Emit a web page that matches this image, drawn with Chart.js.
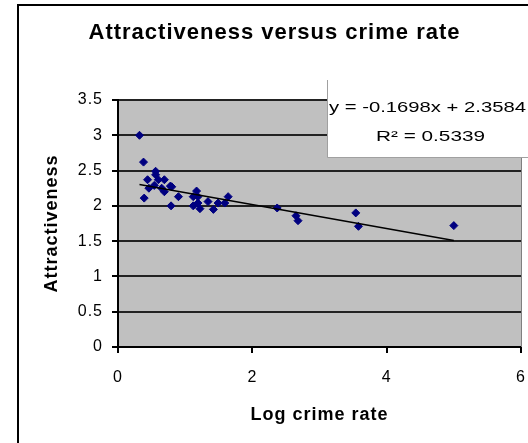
<!DOCTYPE html>
<html>
<head>
<meta charset="utf-8">
<script src="https://cdn.jsdelivr.net/npm/chart.js@4/dist/chart.umd.min.js"></script>
<style>
  body { margin: 0; background: #fff; }
</style>
</head>
<body>
<canvas id="crimeChart" width="528" height="443"></canvas>
<script>
// values
const logCrime = [0.32, 0.38, 0.39, 0.44, 0.46, 0.54, 0.56, 0.56, 0.60, 0.65, 0.69, 0.69, 0.78, 0.80, 0.79,
    0.90, 1.12, 1.12, 1.17, 1.19, 1.19, 1.22, 1.34, 1.42, 1.49, 1.59, 1.64, 2.37, 2.65, 2.68, 3.54, 3.58, 5.00];
const attractiveness = [3.00, 2.62, 2.11, 2.37, 2.25, 2.29, 2.49, 2.44, 2.37, 2.25, 2.37, 2.20, 2.28, 2.27, 2.00,
    2.13, 2.13, 2.00, 2.21, 2.13, 2.04, 1.96, 2.06, 1.95, 2.04, 2.04, 2.13, 1.97, 1.86, 1.79, 1.90, 1.71, 1.72];
const trendX = [0.32, 5.00];
const trendY = [2.304, 1.509];
const yTickLabels = ['0', '0.5', '1', '1.5', '2', '2.5', '3', '3.5'];
const xTickLabels = ['0', '2', '4', '6'];
const equationLines = ['y = -0.1698x + 2.3584', 'R\u00B2 = 0.5339'];

const FONT = '"Liberation Sans", Arial, sans-serif';

// draws text stretched sideways so it fills the given width
function wideText(ctx, text, left, y, width) {
    const natural = ctx.measureText(text).width;
    ctx.save();
    ctx.translate(left, y);
    ctx.scale(width / natural, 1);
    ctx.fillText(text, 0, 0);
    ctx.restore();
}

document.addEventListener('DOMContentLoaded', function() {
    const excelLook = {
        id: 'excelLook',
        beforeDraw(chart) {
            const ctx = chart.ctx;
            const a = chart.chartArea;
            ctx.letterSpacing = '1px';
            ctx.save();
            ctx.fillStyle = '#c0c0c0';
            ctx.fillRect(a.left, a.top, a.right - a.left, a.bottom - a.top);
            // outer chart border (left and top only visible)
            ctx.strokeStyle = '#000';
            ctx.lineWidth = 2;
            ctx.beginPath();
            ctx.moveTo(18, 443);
            ctx.lineTo(18, 5);
            ctx.lineTo(528, 5);
            ctx.stroke();
            ctx.restore();
        },
        afterDraw(chart) {
            const ctx = chart.ctx;
            const a = chart.chartArea;
            ctx.save();
            // right edge of the plot area
            ctx.strokeStyle = '#808080';
            ctx.lineWidth = 1;
            ctx.beginPath();
            ctx.moveTo(a.right + 0.5, a.top);
            ctx.lineTo(a.right + 0.5, a.bottom);
            ctx.stroke();
            // trend line label box
            ctx.fillStyle = '#fff';
            ctx.fillRect(327, 80, 202, 77);
            ctx.strokeStyle = '#a0a0a0';
            ctx.beginPath();
            ctx.moveTo(327.5, 80);
            ctx.lineTo(327.5, 157.5);
            ctx.lineTo(529, 157.5);
            ctx.stroke();
            ctx.fillStyle = '#000';
            ctx.letterSpacing = '0px';
            ctx.font = '15px ' + FONT;
            ctx.textAlign = 'left';
            ctx.textBaseline = 'middle';
            wideText(ctx, equationLines[0], 329, 108, 197);
            wideText(ctx, equationLines[1], 376, 137, 109);
            ctx.restore();
        }
    };

    const ctx = document.getElementById('crimeChart').getContext('2d');
    const crimeChart = new Chart(ctx, {
        type: 'scatter',
        data: {
            datasets: [{
                type: 'line',
                label: 'Trend',
                data: trendX.map((x, i) => ({ x: x, y: trendY[i] })),
                borderColor: '#000',
                borderWidth: 1.5,
                pointRadius: 0,
                fill: false
            }, {
                label: 'Attractiveness',
                data: logCrime.map((x, i) => ({ x: x, y: attractiveness[i] })),
                pointStyle: 'rectRot',
                pointRadius: 4,
                backgroundColor: '#000080',
                borderColor: '#000080',
                borderWidth: 1
            }]
        },
        options: {
            responsive: false,
            animation: false,
            layout: { padding: { left: 28, right: 7, top: 0, bottom: 0 } },
            plugins: {
                legend: { display: false },
                tooltip: { enabled: false },
                title: {
                    display: true,
                    text: 'Attractiveness versus crime rate',
                    color: '#000',
                    font: { family: FONT, size: 22, weight: 'bold' },
                    padding: { top: 20, bottom: 53.6 }
                }
            },
            scales: {
                x: {
                    type: 'linear',
                    min: 0,
                    max: 6,
                    ticks: {
                        stepSize: 2, color: '#000', padding: 15, font: { family: FONT, size: 16 },
                        callback: (v, i) => xTickLabels[i]
                    },
                    grid: { drawOnChartArea: false, drawTicks: true, tickLength: 6, color: '#000', lineWidth: 2 },
                    border: { display: true, color: '#000', width: 2 },
                    title: {
                        display: true,
                        text: 'Log crime rate',
                        color: '#000',
                        font: { family: FONT, size: 18, weight: 'bold' },
                        padding: { top: 0, bottom: 17 }
                    },
                    afterFit(scale) {
                        scale.height = 96;
                        scale.paddingLeft = 0;
                        scale.paddingRight = 0;
                    }
                },
                y: {
                    min: 0,
                    max: 3.5,
                    ticks: {
                        stepSize: 0.5, color: '#000', padding: 9, font: { family: FONT, size: 16 },
                        callback: (v, i) => yTickLabels[i]
                    },
                    grid: { color: '#222', lineWidth: 2, tickLength: 6, tickColor: '#000' },
                    border: { display: true, color: '#000', width: 2 },
                    title: {
                        display: true,
                        text: 'Attractiveness',
                        color: '#000',
                        font: { family: FONT, size: 18, weight: 'bold' },
                        padding: { top: 13, bottom: 0 }
                    },
                    afterFit(scale) {
                        scale.width = 90;
                        scale.paddingTop = 0;
                        scale.paddingBottom = 0;
                    }
                }
            }
        },
        plugins: [excelLook]
    });
});
</script>
</body>
</html>
